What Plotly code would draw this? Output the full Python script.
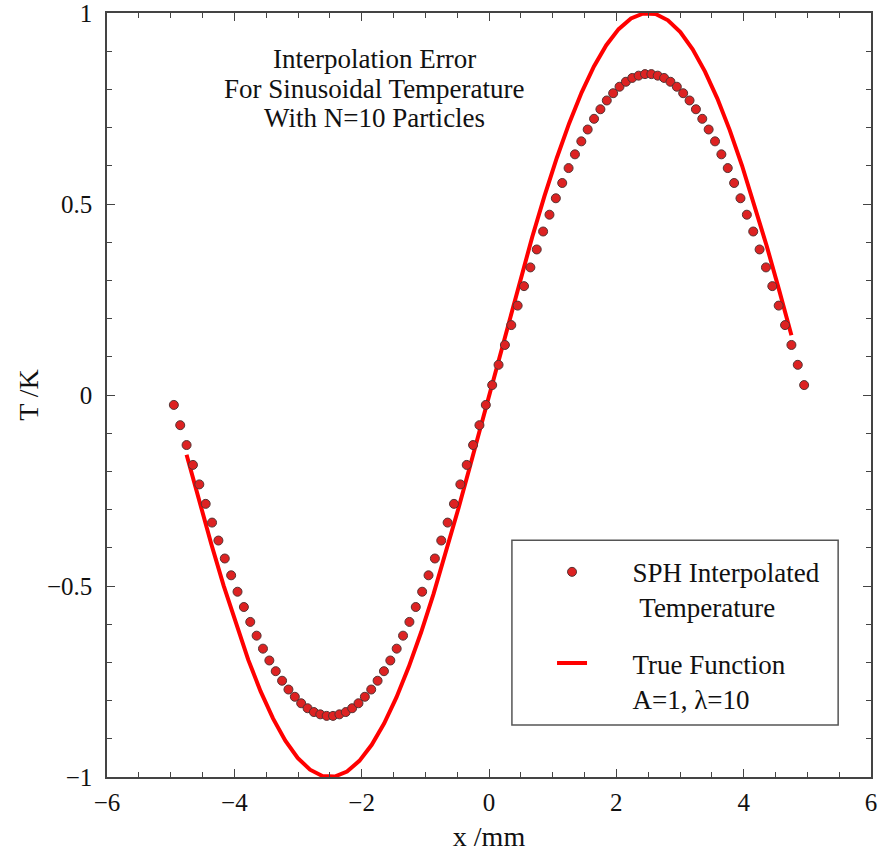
import plotly.graph_objects as go

# SPH interpolated temperature
sph_x = [-4.95, -4.85, -4.75, -4.65, -4.55, -4.45, -4.35, -4.25, -4.15, -4.05,
         -3.95, -3.85, -3.75, -3.65, -3.55, -3.45, -3.35, -3.25, -3.15, -3.05,
         -2.95, -2.85, -2.75, -2.65, -2.55, -2.45, -2.35, -2.25, -2.15, -2.05,
         -1.95, -1.85, -1.75, -1.65, -1.55, -1.45, -1.35, -1.25, -1.15, -1.05,
         -0.95, -0.85, -0.75, -0.65, -0.55, -0.45, -0.35, -0.25, -0.15, -0.05,
         0.05, 0.15, 0.25, 0.35, 0.45, 0.55, 0.65, 0.75, 0.85, 0.95,
         1.05, 1.15, 1.25, 1.35, 1.45, 1.55, 1.65, 1.75, 1.85, 1.95,
         2.05, 2.15, 2.25, 2.35, 2.45, 2.55, 2.65, 2.75, 2.85, 2.95,
         3.05, 3.15, 3.25, 3.35, 3.45, 3.55, 3.65, 3.75, 3.85, 3.95,
         4.05, 4.15, 4.25, 4.35, 4.45, 4.55, 4.65, 4.75, 4.85, 4.95]
sph_t = [-0.026, -0.079, -0.131, -0.183, -0.234, -0.285, -0.334, -0.381, -0.428, -0.472,
         -0.515, -0.555, -0.594, -0.630, -0.664, -0.695, -0.723, -0.748, -0.771, -0.790,
         -0.807, -0.820, -0.830, -0.836, -0.840, -0.840, -0.836, -0.830, -0.820, -0.807,
         -0.790, -0.771, -0.748, -0.723, -0.695, -0.664, -0.630, -0.594, -0.555, -0.515,
         -0.472, -0.428, -0.381, -0.334, -0.285, -0.234, -0.183, -0.131, -0.079, -0.026,
         0.026, 0.079, 0.131, 0.183, 0.234, 0.285, 0.334, 0.381, 0.428, 0.472,
         0.515, 0.555, 0.594, 0.630, 0.664, 0.695, 0.723, 0.748, 0.771, 0.790,
         0.807, 0.820, 0.830, 0.836, 0.840, 0.840, 0.836, 0.830, 0.820, 0.807,
         0.790, 0.771, 0.748, 0.723, 0.695, 0.664, 0.630, 0.594, 0.555, 0.515,
         0.472, 0.428, 0.381, 0.334, 0.285, 0.234, 0.183, 0.131, 0.079, 0.026]

# True function A=1, lambda=10
true_x = [-4.750, -4.556, -4.362, -4.168, -3.974, -3.781, -3.587, -3.393, -3.199, -3.005,
          -2.811, -2.617, -2.423, -2.230, -2.036, -1.842, -1.648, -1.454, -1.260, -1.066,
          -0.872, -0.679, -0.485, -0.291, -0.097, 0.097, 0.291, 0.485, 0.679, 0.872,
          1.066, 1.260, 1.454, 1.648, 1.842, 2.036, 2.230, 2.423, 2.617, 2.811,
          3.005, 3.199, 3.393, 3.587, 3.781, 3.974, 4.168, 4.362, 4.556, 4.750]
true_t = [-0.1564, -0.2753, -0.3901, -0.4991, -0.6007, -0.6934, -0.7758, -0.8467, -0.9051, -0.9501,
          -0.9809, -0.9973, -0.9988, -0.9856, -0.9578, -0.9157, -0.8601, -0.7918, -0.7117, -0.6211,
          -0.5211, -0.4136, -0.2999, -0.1817, -0.0609, 0.0609, 0.1817, 0.2999, 0.4136, 0.5211,
          0.6211, 0.7117, 0.7918, 0.8601, 0.9157, 0.9578, 0.9856, 0.9988, 0.9973, 0.9809,
          0.9501, 0.9051, 0.8467, 0.7758, 0.6934, 0.6007, 0.4991, 0.3901, 0.2753, 0.1564]

x_ticks = [-6, -4, -2, 0, 2, 4, 6]
y_ticks = [-1, -0.5, 0, 0.5, 1]
y_tick_labels = ["\u22121", "\u22120.5", "0", "0.5", "1"]
title_lines = ["Interpolation Error", "For Sinusoidal Temperature", "With N=10 Particles"]

FONT = "Liberation Serif, Times New Roman, serif"
NB = "\u00a0"
INK = "#111111"

fig = go.Figure()
fig.add_trace(go.Scatter(
    x=true_x, y=true_t, mode="lines",
    line=dict(color="#ff0000", width=4),
    name=NB * 6 + "True Function<br>" + NB * 6 + "A=1, \u03bb=10",
    legendgroup="b", legendrank=2,
))
fig.add_trace(go.Scatter(
    x=sph_x, y=sph_t, mode="markers",
    marker=dict(color="#dd2222", size=9, line=dict(color="#553333", width=1)),
    name=NB * 6 + "SPH Interpolated<br>" + NB * 7 + "Temperature",
    legendgroup="a", legendrank=1,
))

axis_common = dict(
    showline=True, linecolor="#444444", linewidth=1.5, mirror="ticks",
    ticks="inside", ticklen=8, tickwidth=1.2, tickcolor="#444444",
    showgrid=False, zeroline=False, automargin=False,
    ticklabeloverflow="allow",
    tickfont=dict(family=FONT, size=25, color=INK),
)

title_ys = [0.940, 0.901, 0.862]
annotations = [dict(
    text=t, xref="paper", yref="paper", x=0.350, y=yv,
    xanchor="center", yanchor="middle", showarrow=False,
    font=dict(family=FONT, size=27, color=INK),
) for t, yv in zip(title_lines, title_ys)]

fig.update_layout(
    width=881, height=855,
    margin=dict(l=107, r=10, t=13, b=78),
    paper_bgcolor="white", plot_bgcolor="white",
    font=dict(family=FONT, size=25, color=INK),
    showlegend=True,
    legend=dict(
        x=0.5825, y=0.300, xanchor="left", yanchor="top",
        bgcolor="rgba(0,0,0,0)", borderwidth=0,
        font=dict(family=FONT, size=27, color=INK),
        tracegroupgap=18, valign="top", traceorder="grouped",
    ),
    xaxis=dict(
        range=[-6, 6], tickvals=x_ticks, ticklabelstandoff=2,
        minor=dict(dtick=0.5, ticks="inside", ticklen=5, tickcolor="#444444", tickwidth=1),
        title=dict(text="x /mm", font=dict(family=FONT, size=28), standoff=12),
        **axis_common,
    ),
    yaxis=dict(
        range=[-1, 1], tickvals=y_ticks, ticktext=y_tick_labels, ticklabelstandoff=8,
        minor=dict(dtick=0.1, ticks="inside", ticklen=5, tickcolor="#444444", tickwidth=1),
        title=dict(text="T /K", font=dict(family=FONT, size=28), standoff=0),
        **axis_common,
    ),
    shapes=[dict(
        type="rect", xref="paper", yref="paper",
        x0=0.530, x1=0.957, y0=0.068, y1=0.310,
        line=dict(color="#555555", width=1.5), fillcolor="rgba(0,0,0,0)",
    )],
    annotations=annotations,
)

fig.write_html("out.html")
